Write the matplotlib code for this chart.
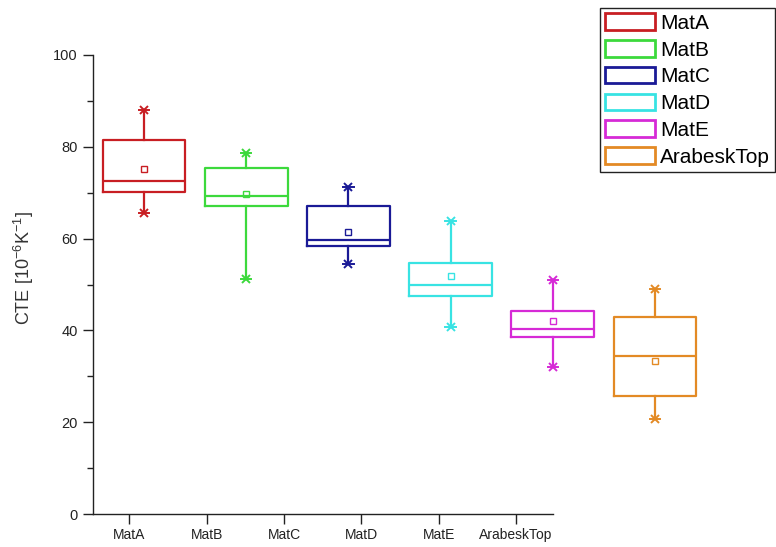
import matplotlib
matplotlib.use("Agg")
import matplotlib.pyplot as plt
from matplotlib.patches import Patch
from matplotlib.ticker import MultipleLocator

plt.rcParams["font.family"] = ["Liberation Sans", "DejaVu Sans"]
plt.rcParams["mathtext.fontset"] = "custom"
plt.rcParams["mathtext.rm"] = "Liberation Sans"
plt.rcParams["mathtext.it"] = "Liberation Sans:italic"

# Box statistics per material (CTE in 1e-6 / K)
categories = ["MatA", "MatB", "MatC", "MatD", "MatE", "ArabeskTop"]
whisker_high = [88.0, 78.6, 71.3, 63.8, 51.0, 49.0]
q3 = [81.5, 75.3, 67.2, 54.6, 44.3, 43.0]
median = [72.5, 69.3, 59.8, 49.9, 40.3, 34.4]
q1 = [70.2, 67.1, 58.4, 47.5, 38.6, 25.7]
whisker_low = [65.6, 51.2, 54.4, 40.8, 32.1, 20.8]
means = [75.2, 69.7, 61.5, 51.9, 42.0, 33.3]
colors = ["#c81e23", "#3cd93c", "#1a1a96", "#38e3e3", "#d62ad6", "#e38a25"]

W, H = 776, 547
fig = plt.figure(figsize=(W / 100, H / 100), dpi=100)

# Category axis (ticks and spines)
ax = fig.add_axes([93 / W, 1 - 514 / H, 460 / W, 459 / H])
# Box layer, wider spacing than the category ticks
axb = fig.add_axes([93 / W, 1 - 514 / H, 613 / W, 459 / H])
axb.patch.set_alpha(0)
axb.axis("off")

ax.set_xlim(0.53, 6.48)
ax.set_ylim(0, 100)
axb.set_xlim(0.5, 6.5)
axb.set_ylim(0, 100)

for i, name in enumerate(categories):
    c = colors[i]
    pos = i + 1
    stat = dict(med=median[i], q1=q1[i], q3=q3[i], whislo=whisker_low[i],
                whishi=whisker_high[i], mean=means[i], fliers=[], label=name)
    axb.bxp([stat], positions=[pos], widths=0.81, showmeans=True,
            showcaps=True, showfliers=False, capwidths=0.1,
            boxprops=dict(color=c, lw=1.6),
            whiskerprops=dict(color=c, lw=1.6),
            capprops=dict(color=c, lw=1.4),
            medianprops=dict(color=c, lw=1.6),
            meanprops=dict(marker="s", markerfacecolor="none",
                           markeredgecolor=c, markersize=5,
                           markeredgewidth=1.0))
    axb.plot([pos, pos], [whisker_low[i], whisker_high[i]], linestyle="none",
             marker="x", color=c, markersize=6, markeredgewidth=1.4)

ax.spines["top"].set_visible(False)
ax.spines["right"].set_visible(False)
for s in ("left", "bottom"):
    ax.spines[s].set_linewidth(1.0)
    ax.spines[s].set_color("#222222")

ax.set_xticks(range(1, len(categories) + 1))
ax.set_xticklabels(categories)
ax.yaxis.set_major_locator(MultipleLocator(20))
ax.yaxis.set_minor_locator(MultipleLocator(10))
ax.tick_params(axis="y", which="major", length=7, width=1, direction="out",
               labelsize=10.5, pad=4, colors="#222222")
ax.tick_params(axis="y", which="minor", length=4, width=1, direction="out",
               colors="#222222")
ax.tick_params(axis="x", which="major", length=7, width=1, direction="out",
               labelsize=10, pad=3, colors="#222222")

ax.set_ylabel("CTE [10$^{-6}$K$^{-1}$]", fontsize=13, color="#333333")
ax.yaxis.set_label_coords(-0.125, 0.536)

handles = [Patch(facecolor="white", edgecolor=c, linewidth=2) for c in colors]
leg = fig.legend(handles, categories, loc="upper right",
                 bbox_to_anchor=(775 / W, 1 - 8 / H), frameon=True,
                 fancybox=False, edgecolor="#222222", framealpha=1,
                 fontsize=15, handlelength=2.4, handleheight=0.85,
                 handletextpad=0.25, borderpad=0.25, labelspacing=0.35,
                 borderaxespad=0)
leg.get_frame().set_linewidth(1.0)

fig.savefig("out.png", dpi=100)
